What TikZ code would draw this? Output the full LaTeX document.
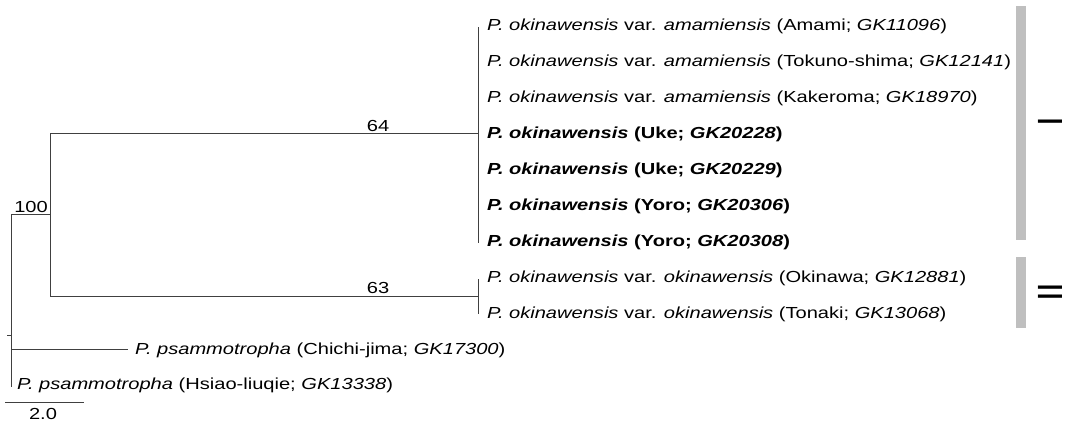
\documentclass[tikz,border=0pt]{standalone}
\usepackage{fontspec}
\setmainfont{Liberation Sans}[FakeStretch=1.255]
\newfontfamily\numfont{Liberation Sans}
\begin{document}
\begin{tikzpicture}[x=1pt,y=-1pt,
  br/.style={draw=black!75,line width=0.8pt},
  leaf/.style={anchor=base west,inner sep=0pt,font=\fontsize{16}{19}\selectfont},
  supval/.style={inner sep=0pt,font=\fontsize{16}{19}\selectfont},
  grp/.style={fill=black!25,draw=none},
  num/.style={rotate=90,inner sep=0pt,font=\numfont\fontsize{35}{35}\selectfont}]
\useasboundingbox (0,0) rectangle (1065,424);
% internal nodes
\coordinate (stub) at (7,335);
\coordinate (root) at (11,335);
\coordinate (rtop) at (11,214);
\coordinate (rbot) at (11,387);
\coordinate (n100) at (50,214);
\coordinate (n100t) at (50,133);
\coordinate (n100b) at (50,296);
\coordinate (nA) at (478,133);
\coordinate (nB) at (478,296);
% leaf tips
\foreach \i/\y in {1/27,2/61,3/97,4/133,5/169,6/205,7/243,8/279,9/314}{
  \coordinate (t\i) at (478,\y);
}
\coordinate (t10) at (128,349);
\coordinate (t10b) at (11,349);
% leaves
\node[leaf] (L1) at (487,25+5.7) {\textit{P. okinawensis} var. \textit{amamiensis} (Amami; \textit{GK11096})};
\node[leaf] (L2) at (487,61+5.7) {\textit{P. okinawensis} var. \textit{amamiensis} (Tokuno-shima; \textit{GK12141})};
\node[leaf] (L3) at (487,97+5.7) {\textit{P. okinawensis} var. \textit{amamiensis} (Kakeroma; \textit{GK18970})};
\node[leaf] (L4) at (487,133+5.7) {\bfseries\textit{P. okinawensis} (Uke; \textit{GK20228})};
\node[leaf] (L5) at (487,169+5.7) {\bfseries\textit{P. okinawensis} (Uke; \textit{GK20229})};
\node[leaf] (L6) at (487,205+5.7) {\bfseries\textit{P. okinawensis} (Yoro; \textit{GK20306})};
\node[leaf] (L7) at (487,241+5.7) {\bfseries\textit{P. okinawensis} (Yoro; \textit{GK20308})};
\node[leaf] (L8) at (487,277+5.7) {\textit{P. okinawensis} var. \textit{okinawensis} (Okinawa; \textit{GK12881})};
\node[leaf] (L9) at (487,313+5.7) {\textit{P. okinawensis} var. \textit{okinawensis} (Tonaki; \textit{GK13068})};
\node[leaf] (L10) at (135,349+5.7) {\textit{P. psammotropha} (Chichi-jima; \textit{GK17300})};
\node[leaf] (L11) at (17,384+5.7) {\textit{P. psammotropha} (Hsiao-liuqie; \textit{GK13338})};
% branches
\draw[br] (stub) -- (root);
\draw[br] (rtop) -- (rbot);
\draw[br] (rtop) -- (n100);
\draw[br] (n100t) -- (n100b);
\draw[br] (n100t) -- (nA);
\draw[br] (n100b) -- (nB);
\draw[br] (t1) -- (t7);
\draw[br] (t8) -- (t9);
\draw[br] (t10b) -- (t10);
% support values
\node[supval,anchor=base east] (s100) at (48,212) {100};
\node[supval,anchor=base] (s64) at (378,131) {64};
\node[supval,anchor=base] (s63) at (378,293) {63};
% groups
\fill[grp] (1016,6) rectangle (1026,240);
\fill[grp] (1016,257) rectangle (1026,328);
\node[num] (g1) at (1050,122) {I};
\node[num] (g2) at (1050,292) {II};
% scale bar
\coordinate (sb1) at (5,402);
\coordinate (sb2) at (84,402);
\draw[br] (sb1) -- (sb2);
\node[supval,anchor=base] (sbl) at (43,419) {2.0};
\end{tikzpicture}
\end{document}
